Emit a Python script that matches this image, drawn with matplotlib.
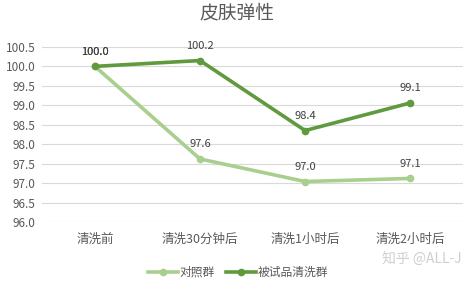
import numpy as np
import matplotlib
matplotlib.use('Agg')
import matplotlib.pyplot as plt

plt.rcParams['font.family'] = ['Noto Sans CJK SC', 'DejaVu Sans']

categories = ['清洗前', '清洗30分钟后', '清洗1小时后', '清洗2小时后']
control    = [100.0, 97.62, 97.04, 97.12]
treated    = [100.0, 100.15, 98.35, 99.06]
labels_ctl = ['100.0', '97.6', '97.0', '97.1']
labels_trt = ['100.0', '100.2', '98.4', '99.1']
yticks     = [96.0, 96.5, 97.0, 97.5, 98.0, 98.5, 99.0, 99.5, 100.0, 100.5]

c_ctl = '#a9cf8e'
c_trt = '#5f9a3e'
txt   = '#595959'

fig = plt.figure(figsize=(4.66, 2.81), dpi=100)
ax = fig.add_axes([0.091, 0.21, 0.902, 0.623])

x = np.arange(len(categories))
ax.plot(x, control, color=c_ctl, lw=2.6, marker='o', ms=4.5, label='对照群', zorder=3)
ax.plot(x, treated, color=c_trt, lw=2.6, marker='o', ms=4.5, label='被试品清洗群', zorder=4)

for i in range(len(x)):
    ax.annotate(labels_ctl[i], (x[i], control[i]), xytext=(0, 7), textcoords='offset points',
                ha='center', va='bottom', fontsize=8, color='#404040')
    ax.annotate(labels_trt[i], (x[i], treated[i]), xytext=(0, 7), textcoords='offset points',
                ha='center', va='bottom', fontsize=8, color='#404040')

ax.set_xlim(-0.5, len(x) - 0.5)
ax.set_ylim(96.0, 100.5)
ax.set_yticks(yticks)
ax.set_yticklabels(['%.1f' % v for v in yticks])
ax.set_xticks(x)
ax.set_xticklabels(categories)
ax.tick_params(axis='both', length=0, colors=txt, labelsize=8.5)
ax.tick_params(axis='y', pad=5)
ax.tick_params(axis='x', pad=8, labelsize=9)
ax.grid(axis='y', color='#d9d9d9', lw=0.8)
ax.set_axisbelow(True)
for s in ax.spines.values():
    s.set_visible(False)

fig.suptitle('皮肤弹性', x=0.508, y=0.99, fontsize=13.5, color=txt)

ax.legend(loc='upper center', bbox_to_anchor=(0.465, -0.19), ncol=2, frameon=False,
          fontsize=8.5, labelcolor=txt, handlelength=2.6, columnspacing=0.9, handletextpad=0.1)

fig.text(0.99, 0.075, '知乎 @ALL-J', ha='right', va='center', fontsize=10, color='#cfcfcf')

plt.savefig('out.png', dpi=100)
